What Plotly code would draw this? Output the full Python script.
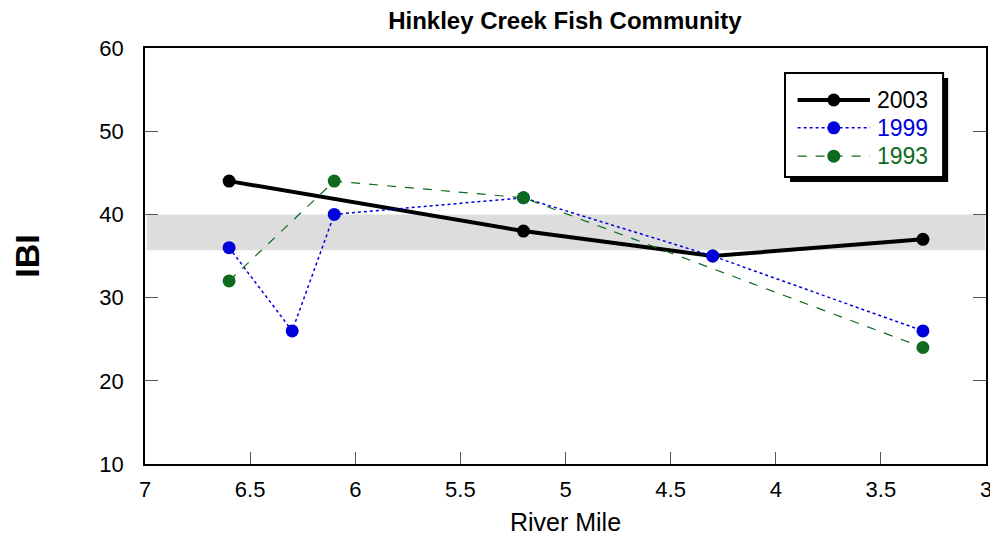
import plotly.graph_objects as go

# Data
miles_2003 = [6.6, 5.2, 4.3, 3.3]
ibi_2003 = [44, 38, 35, 37]
miles_1999 = [6.6, 6.3, 6.1, 5.2, 4.3, 3.3]
ibi_1999 = [36, 26, 40, 42, 35, 26]
miles_1993 = [6.6, 6.1, 5.2, 3.3]
ibi_1993 = [32, 44, 42, 24]
band_low, band_high = 35.7, 40
x_ticks = [7, 6.5, 6, 5.5, 5, 4.5, 4, 3.5, 3]
x_ticktext = ["7", "6.5", "6", "5.5", "5", "4.5", "4", "3.5", "3"]
y_ticks = [10, 20, 30, 40, 50, 60]

FONT = "Liberation Sans, Arial, sans-serif"
BLUE = "#0000dd"
GREEN = "#0e6b1e"

series = [
    ("2003", miles_2003, ibi_2003, "black", 4, "solid"),
    ("1999", miles_1999, ibi_1999, BLUE, 1.5, "dot"),
    ("1993", miles_1993, ibi_1993, GREEN, 1.2, "dash"),
]

fig = go.Figure()
for name, xs, ys, col, w, dash in series:
    fig.add_trace(go.Scatter(x=xs, y=ys, name=name, mode="lines+markers",
                             line=dict(color=col, width=w, dash=dash),
                             marker=dict(color=col, size=13), showlegend=False))

fig.add_shape(type="rect", xref="paper", yref="y", x0=0.002, x1=0.999, y0=band_low, y1=band_high,
              fillcolor="#dcdddc", line=dict(width=0), layer="below")

# custom legend (box with shadow)
fig.add_shape(type="rect", xref="paper", yref="paper", x0=0.767, x1=0.955, y0=0.678, y1=0.928,
              fillcolor="black", line=dict(width=0), layer="above")
fig.add_shape(type="rect", xref="paper", yref="paper", x0=0.761, x1=0.949, y0=0.690, y1=0.940,
              fillcolor="white", line=dict(color="black", width=2), layer="above")
row_y = [0.875, 0.808, 0.740]
for (name, xs, ys, col, w, dash), ry in zip(series, row_y):
    fig.add_shape(type="line", xref="paper", yref="paper", x0=0.776, x1=0.862, y0=ry, y1=ry,
                  line=dict(color=col, width=w, dash=dash), layer="above")
    fig.add_shape(type="circle", xref="paper", yref="paper", xsizemode="pixel", ysizemode="pixel",
                  xanchor=0.819, yanchor=ry, x0=-6.5, x1=6.5, y0=-6.5, y1=6.5,
                  fillcolor=col, line=dict(width=0), layer="above")
    fig.add_annotation(xref="paper", yref="paper", x=0.868, y=ry, text=name, showarrow=False,
                       xanchor="left", yanchor="middle", font=dict(size=23, color=col))

fig.update_layout(
    width=998, height=541,
    margin=dict(l=137, r=20, t=40, b=85),
    paper_bgcolor="white", plot_bgcolor="white",
    font=dict(family=FONT, size=22, color="black"),
    title=dict(text="<b>Hinkley Creek Fish Community</b>", x=0.558, xanchor="center",
               xref="container", yref="container", y=0.976, yanchor="middle",
               font=dict(size=24)),
    showlegend=False,
    xaxis=dict(range=[7, 3], tickvals=x_ticks, ticktext=x_ticktext,
               ticks="inside", ticklen=12, tickcolor="#555", showline=True, linecolor="black",
               linewidth=1.5, mirror=True, showgrid=False, zeroline=False, automargin=False,
               ticklabelstandoff=5, tickfont=dict(size=22),
               title=dict(text="River Mile", font=dict(size=25), standoff=12)),
    yaxis=dict(range=[10, 60], tickvals=y_ticks,
               ticks="inside", ticklen=13, tickcolor="#555", showline=True, linecolor="black",
               linewidth=1.5, mirror="ticks", showgrid=False, zeroline=False, automargin=False,
               ticklabelstandoff=15, tickfont=dict(size=22),
               title=dict(text="<b>IBI</b>", font=dict(size=34), standoff=50)),
)

fig.write_html("out.html")
